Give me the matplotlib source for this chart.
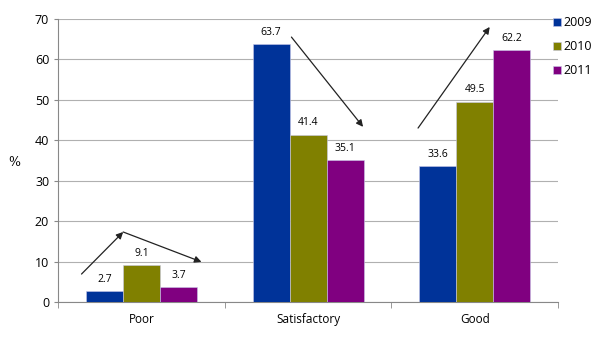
import matplotlib.pyplot as plt
import numpy as np

categories = ['Poor', 'Satisfactory', 'Good']
years = ['2009', '2010', '2011']
values_2009 = [2.7, 63.7, 33.6]
values_2010 = [9.1, 41.4, 49.5]
values_2011 = [3.7, 35.1, 62.2]
colors = ['#003399', '#808000', '#800080']

# trend arrows drawn over the chart (start, end) in data coords
arrows = [
    ((-0.36, 6.9), (-0.11, 17.3)),
    ((-0.11, 17.3), (0.36, 9.9)),
    ((0.90, 65.5), (1.33, 43.3)),
    ((1.66, 43.0), (2.09, 68.0)),
]


def main():
    plt.rcParams['font.family'] = ['Open Sans', 'DejaVu Sans']
    fig = plt.figure(figsize=(6, 3.37), dpi=100)
    ax = fig.add_axes([0.097, 0.104, 0.833, 0.84])

    x = np.arange(len(categories))
    width = 0.222
    all_values = [values_2009, values_2010, values_2011]
    for i, (vals, col, yr) in enumerate(zip(all_values, colors, years)):
        pos = x + (i - 1) * width
        bars = ax.bar(pos, vals, width, color=col, label=yr,
                      edgecolor='#c8c8e8', linewidth=0.4, zorder=3)
        for b, v in zip(bars, vals):
            ax.text(b.get_x() + b.get_width() / 2, v + 1.6, f'{v:.1f}',
                    ha='center', va='bottom', fontsize=7.5, zorder=4)

    for start, end in arrows:
        ax.annotate('', xy=end, xytext=start,
                    arrowprops=dict(arrowstyle='-|>', color='#222222', lw=0.9,
                                    mutation_scale=10, shrinkA=0, shrinkB=0),
                    zorder=5)

    ax.set_xlim(-0.5, 2.5)
    ax.set_ylim(0, 70)
    ax.set_yticks(range(0, 71, 10))
    ax.set_xticks(x)
    ax.set_xticklabels(categories, fontsize=8.5)
    ax.set_xticks([-0.5, 0.5, 1.5, 2.5], minor=True)
    ax.tick_params(axis='x', which='major', length=0, pad=8)
    ax.tick_params(axis='x', which='minor', length=4, color='#888888')
    ax.tick_params(axis='y', labelsize=9, length=3, color='#888888')
    ax.grid(axis='y', color='#b0b0b0', linewidth=0.8, zorder=0)
    ax.set_axisbelow(True)

    for side in ['top', 'right']:
        ax.spines[side].set_visible(False)
    for side in ['left', 'bottom']:
        ax.spines[side].set_color('#888888')

    ax.set_ylabel('%', family='DejaVu Serif', fontsize=9, rotation=0)
    ax.yaxis.set_label_coords(-0.087, 0.47)

    ax.legend(loc='upper left', bbox_to_anchor=(0.968, 1.05), frameon=False,
              fontsize=9, handlelength=0.6, handleheight=0.6, handletextpad=0.25,
              labelspacing=0.9)

    fig.savefig('out.png', dpi=100)


if __name__ == '__main__':
    main()
